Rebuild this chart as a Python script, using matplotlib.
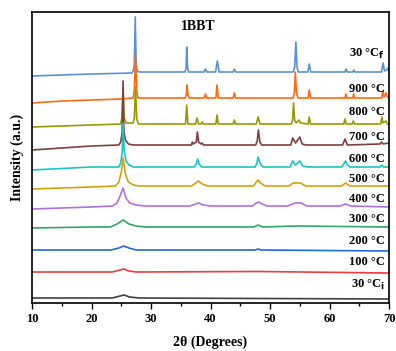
import numpy as np
import matplotlib.pyplot as plt

plt.rcParams['font.family'] = ['Liberation Serif', 'DejaVu Serif']
plt.rcParams['font.weight'] = 'bold'

# XRD patterns of 1BBT: (2theta, relative intensity) points
# each pattern is stacked by its own offset
two_theta_30f = [10, 15, 20, 26.8, 27.0, 27.2, 27.35, 27.5, 27.7, 28, 35.7, 35.9, 36.0, 36.15, 36.3,
                 38.9, 39.15, 39.4, 40.85, 41.15, 41.45, 43.8, 44.0, 44.25, 53.9, 54.15, 54.35, 54.55,
                 54.75, 56.35, 56.6, 56.85, 62.6, 62.8, 63.0, 63.9, 64.1, 64.3, 68.75, 69.0, 69.25,
                 69.6, 69.8, 70]
inten_30f = [-4, -3, -2, -1, 1, 8, 55, 8, 1, 0, 0, 4, 25, 4, 0,
             0, 3, 0, 0, 11, 0, 0, 3, 0, 0, 5, 30, 5,
             0, 0, 8, 0, 0, 3, 0, 0, 2, 0, 0, 9, 1,
             2, 4, 1]

two_theta_900 = [10, 15, 20, 25, 27.0, 27.2, 27.4, 27.6, 27.8, 35.75, 35.95, 36.05, 36.2, 36.4,
                 38.95, 39.15, 39.35, 40.9, 41.1, 41.3, 43.8, 44.0, 44.2, 53.9, 54.1, 54.25, 54.45,
                 54.7, 56.4, 56.6, 56.8, 62.6, 62.75, 62.9, 63.9, 64.05, 64.2, 68.75, 68.95, 69.15,
                 69.5, 69.7, 70]
inten_900 = [-5, -3, -2, -1, 0, 8, 43, 8, 0, 0, 4, 13, 3, 0,
             0, 4, 0, 0, 13, 0, 0, 5, 0, 0, 6, 26, 5,
             0, 0, 8, 0, 0, 4, 0, 0, 4, 0, 0, 7, 1,
             5, 1, 0]

two_theta_800 = [10, 20, 24.9, 25.1, 25.3, 25.5, 25.8, 27.0, 27.2, 27.4, 27.6, 27.9, 35.8, 36.0, 36.2,
                 37.5, 37.75, 38.0, 38.4, 38.6, 38.8, 40.9, 41.1, 41.3, 43.8, 44.0, 44.2, 47.7, 48.0,
                 48.3, 53.6, 53.8, 53.95, 54.15, 54.4, 54.9, 55.1, 56.4, 56.6, 56.8, 62.4, 62.6, 62.8,
                 63.8, 64.0, 64.2, 68.6, 68.8, 69.0, 69.5, 69.7, 70]
inten_800 = [-3, -1, 0, 6, 36, 6, 1, 1, 6, 37, 5, 0, 0, 19, 0,
             0, 6, 0, 0, 2, 0, 0, 9, 0, 0, 4, 0, 0, 7,
             0, 0, 4, 21, 4, 1, 4, 1, 0, 7, 0, 0, 5, 0,
             0, 3, 0, 0, 7, 1, 3, 0, 0]

two_theta_700 = [10, 15, 20, 24.6, 24.9, 25.15, 25.3, 25.45, 25.7, 26.2, 27, 36.8, 36.95, 37.1,
                 37.6, 37.8, 38.0, 38.4, 38.6, 38.8, 47.6, 47.85, 48.05, 48.3, 48.6, 53.5, 53.8,
                 54.3, 55.0, 55.4, 56, 62.2, 62.6, 63.0, 68.5, 68.75, 69.0, 70]
inten_700 = [-5, -3, -1, 0, 3, 12, 64, 14, 5, 1, 0, 0, 3, 1,
             3, 13, 3, 1, 2, 0, 0, 4, 15, 3, 0, 0, 7,
             2, 8, 1, 0, 0, 6, 0, 1, 3, 1, 2]

two_theta_600 = [10, 20, 24.6, 24.9, 25.15, 25.3, 25.5, 25.8, 26.3, 27, 37.3, 37.6, 37.85, 38.1,
                 38.5, 47.5, 47.8, 48.0, 48.3, 48.8, 53.4, 53.8, 54.3, 55.0, 55.5, 56.2, 62.0,
                 62.4, 62.7, 63.0, 63.5, 68.5, 68.8, 69.1, 70]
inten_600 = [-3, 0, 0, 4, 14, 44, 16, 6, 2, 0, 0, 3, 8, 3,
             0, 0, 4, 10, 4, 0, 0, 6, 2, 6, 1, 0, 0,
             3, 6, 2, 0, 0, 2, 0, 0]

two_theta_500 = [10, 20, 24.0, 24.6, 25.0, 25.3, 25.7, 26.2, 27.0, 28, 36.8, 37.5, 38.0, 38.6, 39.5,
                 47.2, 47.7, 48.0, 48.4, 49.2, 53.2, 53.9, 54.5, 55.1, 56.0, 62.0, 62.7, 63.4, 70]
inten_500 = [-3, -1, 0, 4, 14, 28, 12, 4, 1, 0, 0, 3, 5, 2, 0,
             0, 4, 6, 3, 0, 0, 3, 3, 3, 0, 0, 3, 0, 0]

two_theta_400 = [10, 20, 23.5, 24.3, 24.8, 25.3, 25.8, 26.4, 27.5, 29, 36.5, 37.5, 38.0, 38.8, 40,
                 47.0, 47.7, 48.1, 48.7, 49.5, 53.0, 54.2, 55.2, 56.2, 61.8, 62.7, 63.6, 70]
inten_400 = [-3, -1, 0, 3, 10, 18, 8, 3, 1, 0, 0, 2, 3, 1, 0,
             0, 3, 4, 2, 0, 0, 3, 3, 0, 0, 2, 0, -1]

two_theta_300 = [10, 20, 23.2, 24.3, 25.3, 26.3, 27.5, 29, 47.3, 48.0, 48.8, 54.5, 70]
inten_300 = [-1, 0, 0, 3, 7, 3, 1, 0, 0, 2, 0, 1, 0]

two_theta_200 = [10, 23.3, 24.6, 25.4, 26.3, 27.5, 47.5, 48.0, 48.5, 70]
inten_200 = [0, 0, 2, 4, 2, 0, 0, 1, 0, -1]

two_theta_100 = [10, 23.5, 24.8, 25.4, 26.3, 27.5, 48.0, 70]
inten_100 = [0, 0, 2, 3, 1, 0, 0.5, -1]

two_theta_30i = [10, 23.5, 24.8, 25.5, 26.4, 28, 70]
inten_30i = [0, 0, 2, 3, 1, 0, -1]

labels = ['30 °C$_\\mathbf{f}$', '900 °C', '800 °C', '700 °C', '600 °C', '500 °C',
          '400 °C', '300 °C', '200 °C', '100 °C', '30 °C$_\\mathbf{i}$']
offsets = [231, 205, 179, 158, 136, 117, 97, 76, 53, 31, 5]
label_y = [249, 214, 191, 166, 144, 124, 104, 84, 62, 41, 18]
colors = ['#5b8fd6', '#ff6a10', '#999900', '#7f3f3f', '#19c4c4', '#d4a010',
          '#b070e0', '#33a565', '#1f6adb', '#ec3c3c', '#404040']

xs = [two_theta_30f, two_theta_900, two_theta_800, two_theta_700, two_theta_600, two_theta_500,
      two_theta_400, two_theta_300, two_theta_200, two_theta_100, two_theta_30i]
ys = [inten_30f, inten_900, inten_800, inten_700, inten_600, inten_500,
      inten_400, inten_300, inten_200, inten_100, inten_30i]

fig = plt.figure(figsize=(3.96, 3.51), dpi=100)
ax = fig.add_axes([32 / 396, 48 / 351, 357 / 396, 291 / 351])

for x, y, off, c in zip(xs, ys, offsets, colors):
    ax.plot(x, np.array(y) + off, color=c, lw=1.2)

for lab, ly in zip(labels, label_y):
    ax.text(69.3, ly, lab, ha='right', va='center', fontsize=9, fontweight='bold')

ax.text(38.0, 276, '1BBT', ha='center', va='center', fontsize=10, fontweight='bold')

ax.set_xlim(10, 70)
ax.set_ylim(0, 291)
ax.set_xticks(range(10, 71, 10))
ax.set_xticks(range(15, 70, 10), minor=True)
ax.set_yticks([])
ax.tick_params(axis='x', which='major', length=4, width=1, labelsize=9, pad=3)
ax.tick_params(axis='x', which='minor', length=2.5, width=1)
for lab in ax.get_xticklabels():
    lab.set_fontweight('bold')
for s in ax.spines.values():
    s.set_linewidth(1.2)

ax.set_xlabel('2θ (Degrees)', fontsize=10, fontweight='bold', labelpad=8)
ax.set_ylabel('Intensity (a.u.)', fontsize=10, fontweight='bold', labelpad=6)

fig.savefig('out.png', dpi=100)
